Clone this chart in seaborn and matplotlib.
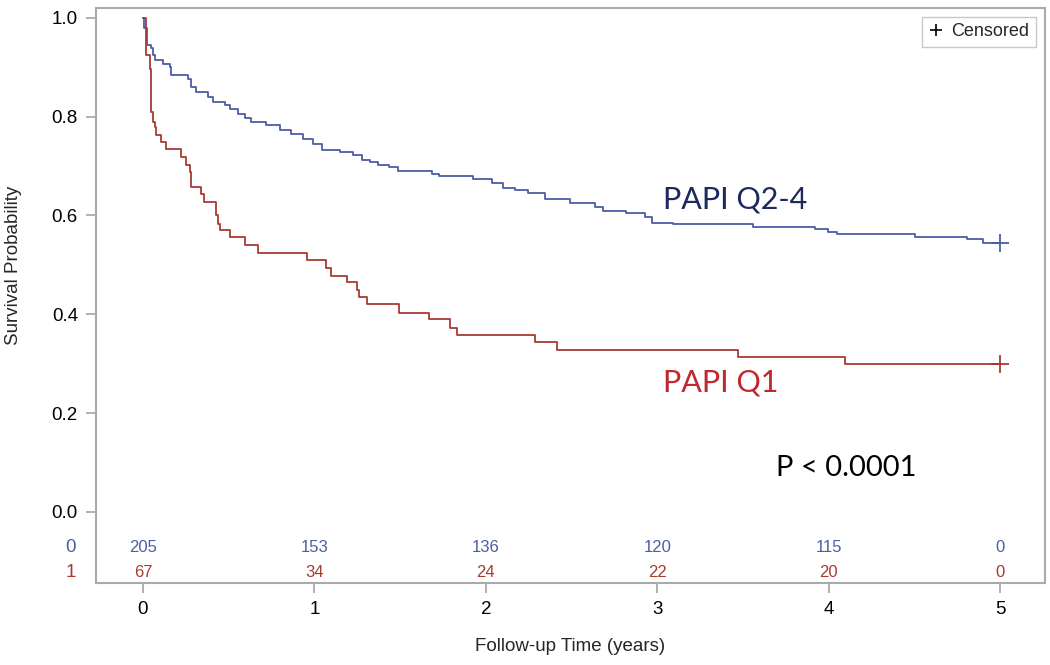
import matplotlib
matplotlib.use("Agg")
import matplotlib.pyplot as plt
from matplotlib.lines import Line2D
import matplotlib.transforms as mtransforms
import pandas as pd
import seaborn as sns

# Kaplan-Meier steps (years, survival after each drop)
q24_time = [0.0, 0.006, 0.023, 0.045, 0.058, 0.070, 0.117, 0.158, 0.163, 0.263,
            0.280, 0.309, 0.379, 0.408, 0.478, 0.508, 0.554, 0.595, 0.630, 0.718,
            0.799, 0.863, 0.933, 0.990, 1.045, 1.149, 1.225, 1.278, 1.324, 1.371,
            1.435, 1.488, 1.686, 1.727, 1.925, 2.036, 2.100, 2.170, 2.246, 2.345,
            2.491, 2.637, 2.684, 2.818, 2.929, 2.970, 3.092, 3.559, 3.921, 3.996,
            4.049, 4.504, 4.807, 4.900, 5.000]
q24_surv = [1.000, 0.980, 0.945, 0.940, 0.925, 0.915, 0.907, 0.900, 0.885, 0.876,
            0.860, 0.850, 0.840, 0.830, 0.824, 0.816, 0.806, 0.797, 0.790, 0.783,
            0.773, 0.765, 0.755, 0.745, 0.733, 0.729, 0.723, 0.713, 0.709, 0.702,
            0.698, 0.690, 0.684, 0.679, 0.674, 0.666, 0.656, 0.652, 0.646, 0.634,
            0.625, 0.618, 0.609, 0.605, 0.597, 0.585, 0.583, 0.576, 0.573, 0.567,
            0.562, 0.557, 0.552, 0.545, 0.545]

q1_time = [0.0, 0.018, 0.039, 0.048, 0.058, 0.068, 0.076, 0.105, 0.134, 0.222,
           0.251, 0.274, 0.280, 0.338, 0.356, 0.426, 0.438, 0.449, 0.508, 0.595,
           0.671, 0.957, 1.068, 1.097, 1.190, 1.249, 1.260, 1.307, 1.494, 1.669,
           1.791, 1.832, 2.287, 2.415, 3.471, 4.096, 5.000]
q1_surv = [1.000, 0.925, 0.897, 0.810, 0.790, 0.780, 0.763, 0.749, 0.735, 0.718,
           0.702, 0.688, 0.658, 0.644, 0.628, 0.601, 0.583, 0.571, 0.557, 0.540,
           0.524, 0.510, 0.494, 0.478, 0.466, 0.449, 0.435, 0.421, 0.403, 0.391,
           0.373, 0.358, 0.344, 0.328, 0.314, 0.300, 0.300]

risk_times = [0, 1, 2, 3, 4, 5]
risk_q24 = [205, 153, 136, 120, 115, 0]
risk_q1 = [67, 34, 24, 22, 20, 0]

BLUE = "#4a5ea6"
RED = "#a83a30"


def build_data():
    df_a = pd.DataFrame({"time": q24_time, "surv": q24_surv, "group": "0"})
    df_b = pd.DataFrame({"time": q1_time, "surv": q1_surv, "group": "1"})
    return pd.concat([df_a, df_b], ignore_index=True)


def show(df):
    sns.set_theme(style="white")
    plt.rcParams["font.family"] = ["Liberation Sans", "DejaVu Sans"]

    fig = plt.figure(figsize=(10.5, 6.65), dpi=100)
    ax = fig.add_axes([0.0914, 0.1233, 0.9038, 0.8647])

    sns.lineplot(data=df, x="time", y="surv", hue="group",
                 palette={"0": BLUE, "1": RED}, drawstyle="steps-post",
                 estimator=None, linewidth=1.3, legend=False, ax=ax)

    # censored marks at the end of each curve
    ends = df.groupby("group").tail(1)
    for _, r in ends.iterrows():
        ax.plot(r["time"], r["surv"], marker="+", markersize=13, mew=1.3,
                color=BLUE if r["group"] == "0" else RED, linestyle="none")

    ax.set_xlim(-0.274, 5.26)
    ax.set_ylim(-0.144, 1.02)
    ax.set_xticks(risk_times)
    ax.set_yticks([0.0, 0.2, 0.4, 0.6, 0.8, 1.0])
    ax.set_yticklabels(["0.0", "0.2", "0.4", "0.6", "0.8", "1.0"])

    for s in ax.spines.values():
        s.set_color("#aaaaaa")
        s.set_linewidth(1.5)
    ax.tick_params(direction="out", length=7, width=1.3, color="#aaaaaa",
                   labelsize=13.5, labelcolor="black", pad=6,
                   left=True, bottom=True)

    ax.set_xlabel("Follow-up Time (years)", fontsize=13.5, labelpad=14)
    ax.set_ylabel("Survival Probability", fontsize=13.5, labelpad=10)
    ax.yaxis.set_label_coords(-0.078, 0.553)

    # number-at-risk rows
    for t, a, b in zip(risk_times, risk_q24, risk_q1):
        ax.text(t, -0.073, str(a), color=BLUE, fontsize=12,
                ha="center", va="center")
        ax.text(t, -0.123, str(b), color=RED, fontsize=12,
                ha="center", va="center")
    trans = mtransforms.blended_transform_factory(ax.transAxes, ax.transData)
    ax.text(-0.027, -0.073, "0", color=BLUE, fontsize=13.5, ha="center",
            va="center", transform=trans, clip_on=False)
    ax.text(-0.027, -0.123, "1", color=RED, fontsize=13.5, ha="center",
            va="center", transform=trans, clip_on=False)

    # annotations
    ann_font = ["Lato", "DejaVu Sans"]
    ax.text(3.03, 0.632, "PAPI Q2-4", color="#1c2a5e", fontsize=22,
            family=ann_font, ha="left", va="center")
    ax.text(3.03, 0.261, "PAPI Q1", color="#c0282d", fontsize=22,
            family=ann_font, ha="left", va="center")
    ax.text(3.69, 0.089, "P < 0.0001", color="black", fontsize=21,
            family=ann_font, ha="left", va="center")

    handle = Line2D([], [], marker="+", linestyle="none", color="black",
                    markersize=9, mew=1.2)
    leg = ax.legend([handle], ["Censored"], loc="upper right", fontsize=13,
                    frameon=True, fancybox=False, handlelength=0.9,
                    handletextpad=0.4, borderpad=0.35, borderaxespad=0.5)
    leg.get_frame().set_edgecolor("#bbbbbb")
    leg.get_frame().set_linewidth(1.0)

    fig.savefig("out.png", dpi=100)


def main():
    df = build_data()
    show(df)


if __name__ == "__main__":
    main()
